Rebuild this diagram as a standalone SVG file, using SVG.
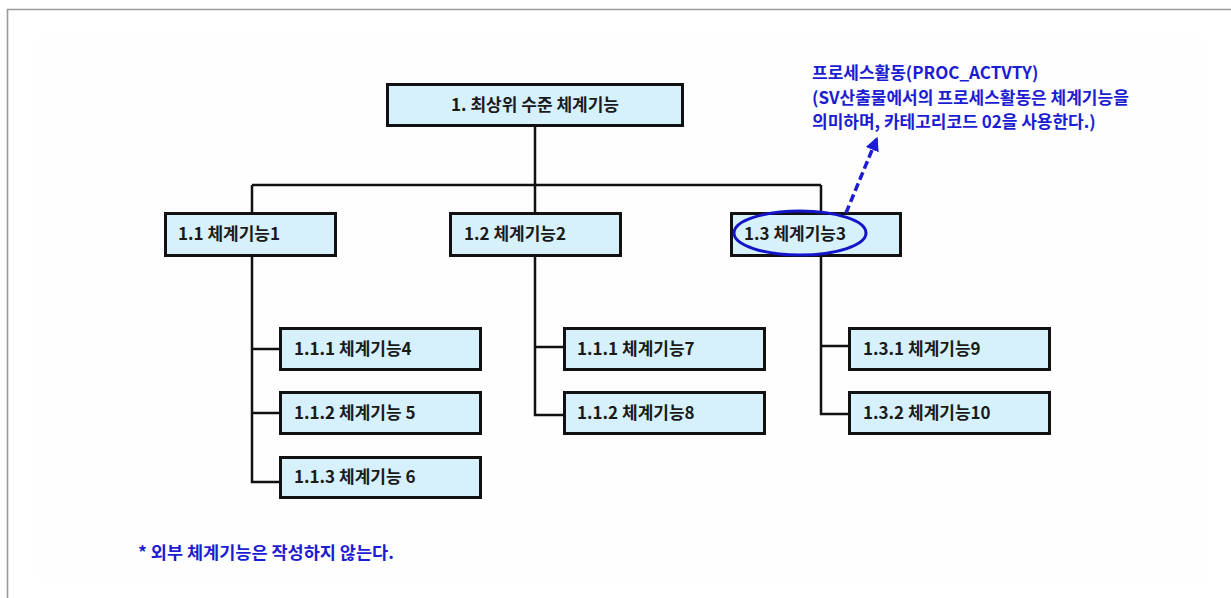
<svg xmlns="http://www.w3.org/2000/svg" width="1231" height="598" viewBox="0 0 1231 598">
<defs>
<style>
.box{fill:#d6f1fb;stroke:#111;stroke-width:3}
.lbl{font-family:"Noto Sans CJK KR","Noto Sans",sans-serif;font-weight:bold;font-size:17px;fill:#1a1a1a}
.note{font-family:"Noto Sans CJK KR","Noto Sans",sans-serif;font-weight:bold;font-size:17px;fill:#1c1cd2}
.wire{fill:none;stroke:#111;stroke-width:2.5}
</style>
<marker id="ah" viewBox="0 0 10 10" refX="9" refY="5" markerWidth="4" markerHeight="4" orient="auto" markerUnits="strokeWidth">
<path d="M0,0 L10,5 L0,10 z" fill="#1c1cd2"/>
</marker>
</defs>
<rect x="0" y="0" width="1231" height="598" fill="#fff"/>
<rect x="35" y="38" width="1171" height="541" fill="#fefefe"/>
<path d="M7.5,598 V9.5 H1231" fill="none" stroke="#9a9a9a" stroke-width="1.6"/>

<g id="connectors">
<path class="wire" d="M535,127 V185 M252,185 H821 M252,185 V212 M535,185 V212 M821,185 V212"/>
<path class="wire" d="M252,257 V482 H279 M252,349 H279 M252,413 H279"/>
<path class="wire" d="M535,257 V415 H563 M535,347 H563"/>
<path class="wire" d="M821,257 V414 H848 M821,346 H848"/>
</g>

<g id="n1"><rect class="box" x="387.5" y="84.5" width="295" height="41"/><text class="lbl" x="535" y="111" text-anchor="middle">1. 최상위 수준 체계기능</text></g>
<g id="n11"><rect class="box" x="165.5" y="213.5" width="170" height="42"/><text class="lbl" x="178" y="240">1.1 체계기능1</text></g>
<g id="n12"><rect class="box" x="450.5" y="213.5" width="170" height="42"/><text class="lbl" x="464" y="240">1.2 체계기능2</text></g>
<g id="n13"><rect class="box" x="731.5" y="213.5" width="169" height="42"/><text class="lbl" x="744" y="240">1.3 체계기능3</text></g>
<g id="n111"><rect class="box" x="280.5" y="328.5" width="200" height="41"/><text class="lbl" x="294" y="355">1.1.1 체계기능4</text></g>
<g id="n112"><rect class="box" x="280.5" y="392.5" width="200" height="41"/><text class="lbl" x="294" y="419">1.1.2 체계기능 5</text></g>
<g id="n113"><rect class="box" x="280.5" y="457.5" width="200" height="40"/><text class="lbl" x="294" y="483">1.1.3 체계기능 6</text></g>
<g id="n121"><rect class="box" x="564.5" y="328.5" width="200" height="41"/><text class="lbl" x="577" y="355">1.1.1 체계기능7</text></g>
<g id="n122"><rect class="box" x="564.5" y="392.5" width="200" height="41"/><text class="lbl" x="577" y="419">1.1.2 체계기능8</text></g>
<g id="n131"><rect class="box" x="849.5" y="328.5" width="200" height="41"/><text class="lbl" x="863" y="355">1.3.1 체계기능9</text></g>
<g id="n132"><rect class="box" x="849.5" y="392.5" width="200" height="41"/><text class="lbl" x="863" y="419">1.3.2 체계기능10</text></g>

<g id="highlight">
<ellipse cx="800" cy="233" rx="66" ry="22" fill="none" stroke="#1414c8" stroke-width="3"/>
<line x1="846" y1="213" x2="877" y2="138" stroke="#1c1cd2" stroke-width="3.5" stroke-dasharray="8 4" marker-end="url(#ah)"/>
</g>

<g id="annotation">
<text class="note" x="812" y="79">프로세스활동(PROC_ACTVTY)</text>
<text class="note" x="812" y="104">(SV산출물에서의 프로세스활동은 체계기능을</text>
<text class="note" x="812" y="128">의미하며, 카테고리코드 02을 사용한다.)</text>
</g>
<g id="footnote"><text class="note" x="138" y="559" style="font-size:17.5px">* 외부 체계기능은 작성하지 않는다.</text></g>
</svg>
